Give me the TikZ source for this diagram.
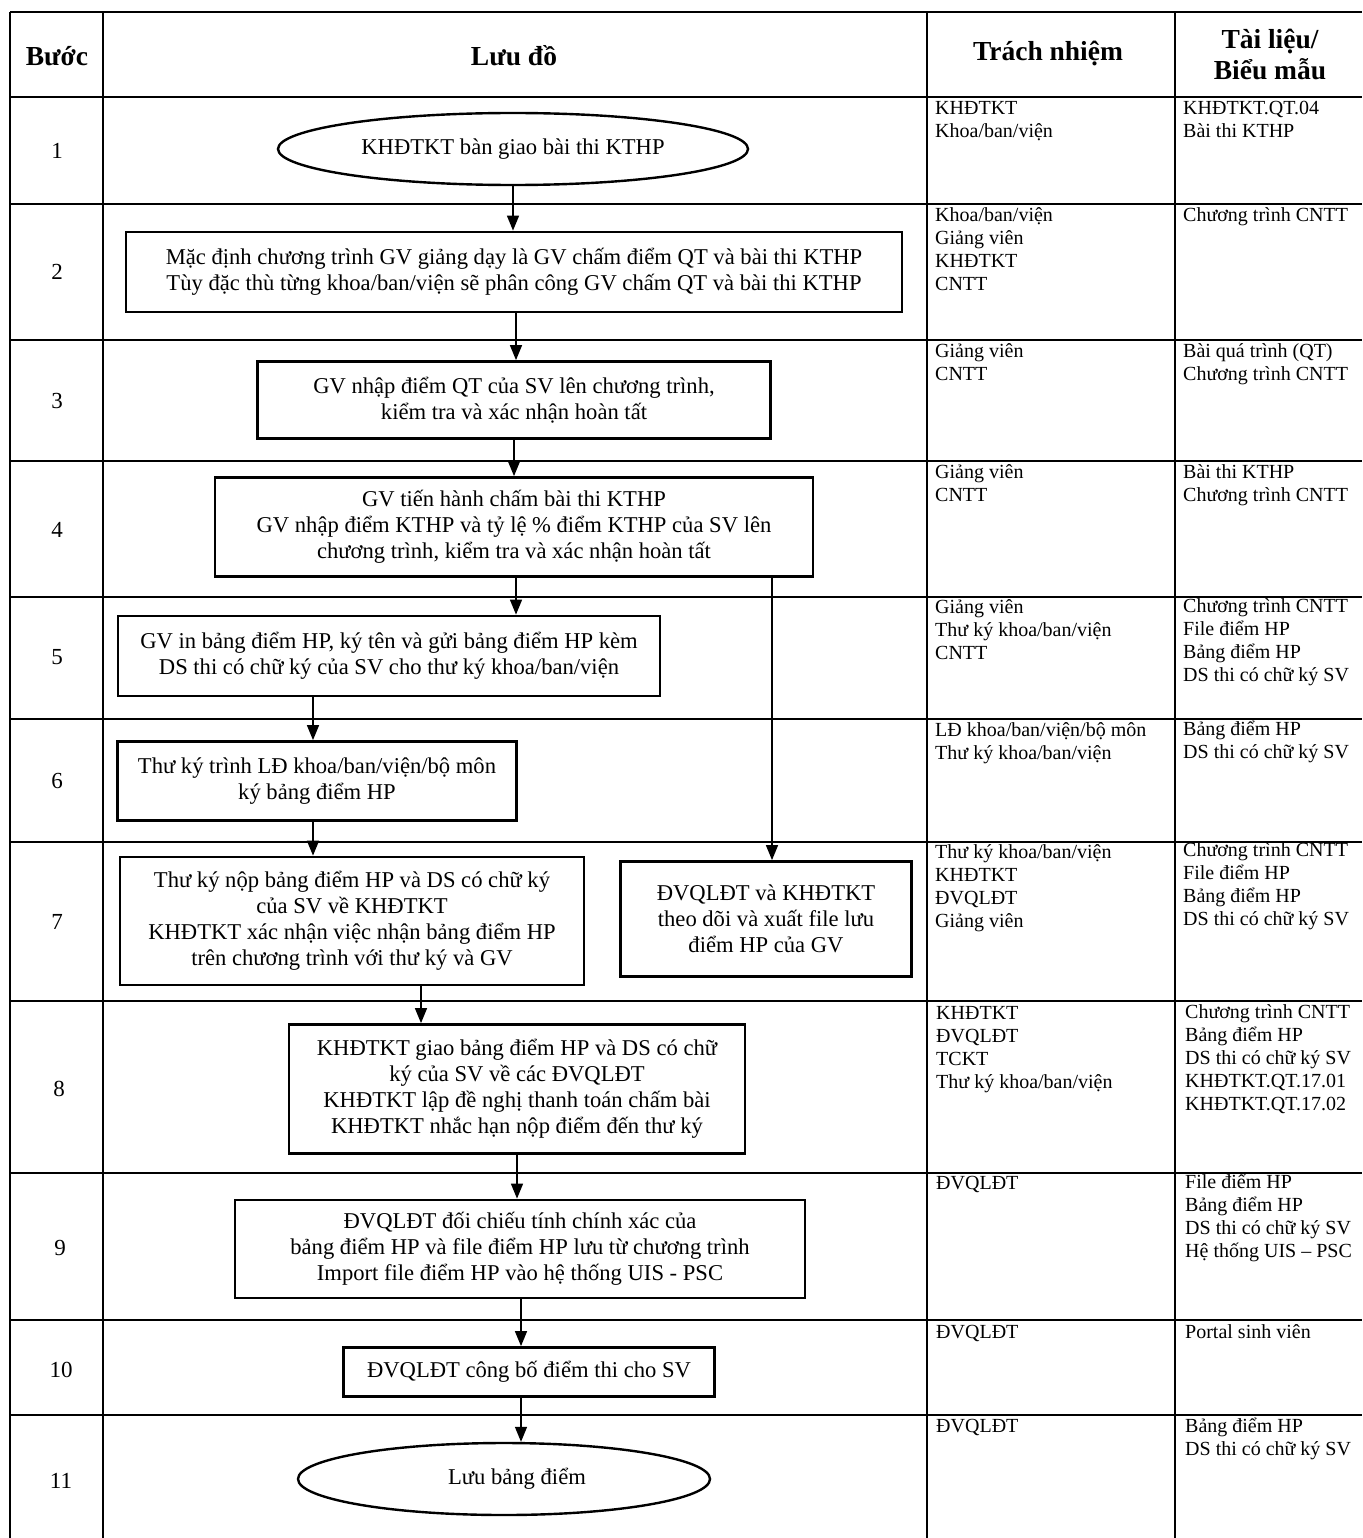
\documentclass[tikz,border=0pt]{standalone}
\usepackage{fontspec}
\setmainfont{Liberation Serif}
\usetikzlibrary{arrows.meta,shapes.geometric}
\begin{document}
\begin{tikzpicture}[x=1pt,y=-1pt,
  tline/.style={line width=1.5pt},
  flowbox/.style={draw,line width=2.8pt,rectangle,inner sep=0pt,align=center,font=\fontsize{22.6}{26}\selectfont},
  flowell/.style={draw,line width=2.4pt,ellipse,inner sep=0pt,align=center,font=\fontsize{22.6}{26}\selectfont},
  cell/.style={anchor=north west,inner sep=0pt,align=left,font=\fontsize{20}{23}\selectfont},
  num/.style={inner sep=0pt,font=\fontsize{23}{26}\selectfont},
  hdr/.style={inner sep=0pt,font=\bfseries\fontsize{27.5}{31}\selectfont,align=center},
  arr/.style={line width=1.5pt,-{Triangle[length=15pt,width=12pt]}}]
\useasboundingbox (0,0) rectangle (1362,1538);
\fill[white] (0,0) rectangle (1362,1538);
% table grid
\foreach \yy in {12,97,204,340,461,597,719,842,1001,1173,1320,1415}
  \draw[tline] (10,\yy) -- (1362,\yy);
\foreach \xx in {10,103,927,1175}
  \draw[tline] (\xx,12) -- (\xx,1538);
% header
\node[hdr] (hb) at (57,56) {Bước};
\node[hdr] (hl) at (514,56) {Lưu đồ};
\node[hdr] (ht) at (1048,54) {Trách nhiệm};
\node[hdr] (hd) at (1270,54) {Tài liệu/\\Biểu mẫu};
% step numbers
\node[num] (s1) at (57,151) {1};
\node[num] (s2) at (57,272) {2};
\node[num] (s3) at (57,401) {3};
\node[num] (s4) at (57,530) {4};
\node[num] (s5) at (57,657) {5};
\node[num] (s6) at (57,781) {6};
\node[num] (s7) at (57,922) {7};
\node[num] (s8) at (59,1089) {8};
\node[num] (s9) at (60,1248) {9};
\node[num] (s10) at (61,1370) {10};
\node[num] (s11) at (61,1481) {11};
% responsibility
\node[cell] (r1) at (935,98) {\strut KHĐTKT\\Khoa/ban/viện};
\node[cell] (r2) at (935,205) {\strut Khoa/ban/viện\\Giảng viên\\KHĐTKT\\CNTT};
\node[cell] (r3) at (935,341) {\strut Giảng viên\\CNTT};
\node[cell] (r4) at (935,462) {\strut Giảng viên\\CNTT};
\node[cell] (r5) at (935,597) {\strut Giảng viên\\Thư ký khoa/ban/viện\\CNTT};
\node[cell] (r6) at (935,720) {\strut LĐ khoa/ban/viện/bộ môn\\Thư ký khoa/ban/viện};
\node[cell] (r7) at (935,842) {\strut Thư ký khoa/ban/viện\\KHĐTKT\\ĐVQLĐT\\Giảng viên};
\node[cell] (r8) at (936,1003) {\strut KHĐTKT\\ĐVQLĐT\\TCKT\\Thư ký khoa/ban/viện};
\node[cell] (r9) at (936,1173) {\strut ĐVQLĐT};
\node[cell] (r10) at (936,1322) {\strut ĐVQLĐT};
\node[cell] (r11) at (936,1416) {\strut ĐVQLĐT};
% documents
\node[cell] (d1) at (1183,98) {\strut KHĐTKT.QT.04\\Bài thi KTHP};
\node[cell] (d2) at (1183,205) {\strut Chương trình CNTT};
\node[cell] (d3) at (1183,341) {\strut Bài quá trình (QT)\\Chương trình CNTT};
\node[cell] (d4) at (1183,462) {\strut Bài thi KTHP\\Chương trình CNTT};
\node[cell] (d5) at (1183,596) {\strut Chương trình CNTT\\File điểm HP\\Bảng điểm HP\\DS thi có chữ ký SV};
\node[cell] (d6) at (1183,719) {\strut Bảng điểm HP\\DS thi có chữ ký SV};
\node[cell] (d7) at (1183,840) {\strut Chương trình CNTT\\File điểm HP\\Bảng điểm HP\\DS thi có chữ ký SV};
\node[cell] (d8) at (1185,1002) {\strut Chương trình CNTT\\Bảng điểm HP\\DS thi có chữ ký SV\\KHĐTKT.QT.17.01\\KHĐTKT.QT.17.02};
\node[cell] (d9) at (1185,1172) {\strut File điểm HP\\Bảng điểm HP\\DS thi có chữ ký SV\\Hệ thống UIS – PSC};
\node[cell] (d10) at (1185,1322) {\strut Portal sinh viên};
\node[cell] (d11) at (1185,1416) {\strut Bảng điểm HP\\DS thi có chữ ký SV};
% flowchart
\node[flowell,minimum width=470,minimum height=72] (n1) at (513,149) {KHĐTKT bàn giao bài thi KTHP};
\node[flowbox,minimum width=776,minimum height=80] (n2) at (514,272) {Mặc định chương trình GV giảng dạy là GV chấm điểm QT và bài thi KTHP\\Tùy đặc thù từng khoa/ban/viện sẽ phân công GV chấm QT và bài thi KTHP};
\node[flowbox,minimum width=513,minimum height=77] (n3) at (514,400) {GV nhập điểm QT của SV lên chương trình,\\kiểm tra và xác nhận hoàn tất};
\node[flowbox,minimum width=598,minimum height=99] (n4) at (514,527) {GV tiến hành chấm bài thi KTHP\\GV nhập điểm KTHP và tỷ lệ \% điểm KTHP của SV lên\\chương trình, kiểm tra và xác nhận hoàn tất};
\node[flowbox,minimum width=542,minimum height=80] (n5) at (389,656) {GV in bảng điểm HP, ký tên và gửi bảng điểm HP kèm\\DS thi có chữ ký của SV cho thư ký khoa/ban/viện};
\node[flowbox,minimum width=399,minimum height=79] (n6) at (317,781) {Thư ký trình LĐ khoa/ban/viện/bộ môn\\ký bảng điểm HP};
\node[flowbox,minimum width=464,minimum height=128] (n7a) at (352,921) {Thư ký nộp bảng điểm HP và DS có chữ ký\\của SV về KHĐTKT\\KHĐTKT xác nhận việc nhận bảng điểm HP\\trên chương trình với thư ký và GV};
\node[flowbox,minimum width=291,minimum height=115] (n7b) at (766,919) {ĐVQLĐT và KHĐTKT\\theo dõi và xuất file lưu\\điểm HP của GV};
\node[flowbox,minimum width=456,minimum height=129] (n8) at (517,1089) {KHĐTKT giao bảng điểm HP và DS có chữ\\ký của SV về các ĐVQLĐT\\KHĐTKT lập đề nghị thanh toán chấm bài\\KHĐTKT nhắc hạn nộp điểm đến thư ký};
\node[flowbox,minimum width=570,minimum height=98] (n9) at (520,1249) {ĐVQLĐT đối chiếu tính chính xác của\\bảng điểm HP và file điểm HP lưu từ chương trình\\Import file điểm HP vào hệ thống UIS - PSC};
\node[flowbox,minimum width=371,minimum height=49] (n10) at (529,1372) {ĐVQLĐT công bố điểm thi cho SV};
\node[flowell,minimum width=412,minimum height=72] (n11) at (504,1479) {\hspace*{26pt}Lưu bảng điểm};
% connectors
\draw[arr] (n1.south) -- (n1.south |- n2.north);
\draw[arr] ([xshift=2pt]n2.south) -- ([xshift=2pt]n2.south |- n3.north);
\draw[arr] (n3.south) -- (n3.south |- n4.north);
\draw[arr] ([xshift=2pt]n4.south) -- ([xshift=2pt]n4.south |- n5.north);
\draw[arr] (n5.south -| 313,0) -- (313,0 |- n6.north);
\draw[arr] ([xshift=-4pt]n6.south) -- ([xshift=-4pt]n6.south |- n7a.north);
\draw[arr] (n4.south -| n7b.north) ++(6pt,0) coordinate (c4) -- (c4 |- n7b.north);
\draw[arr] ([xshift=69pt]n7a.south) -- ([xshift=69pt]n7a.south |- n8.north);
\draw[arr] (n8.south) -- (n8.south |- n9.north);
\draw[arr] ([xshift=1pt]n9.south) -- ([xshift=1pt]n9.south |- n10.north);
\draw[arr] ([xshift=-8pt]n10.south) -- ([xshift=-8pt]n10.south |- n11.north);
\end{tikzpicture}
\end{document}
